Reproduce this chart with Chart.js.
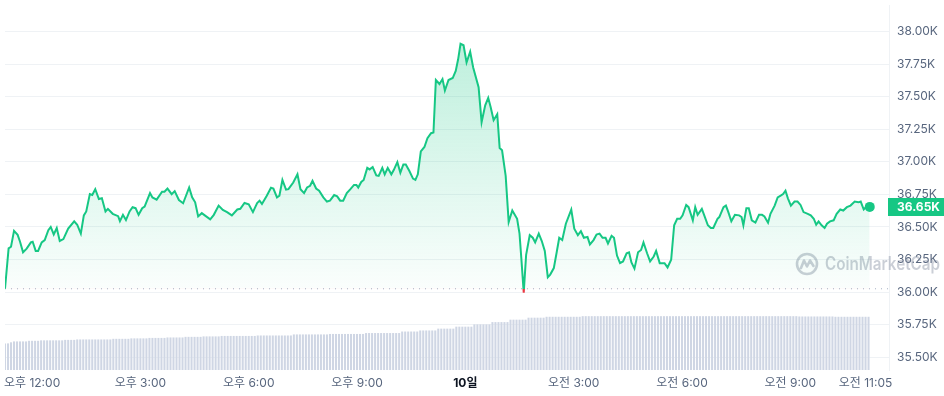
<!DOCTYPE html>
<html>
<head>
<meta charset="utf-8">
<script src="https://cdn.jsdelivr.net/npm/chart.js@4.4.1/dist/chart.umd.min.js"></script>
<style>
  html, body { margin: 0; padding: 0; background: #fff; }
  #chart { display: block; }
</style>
</head>
<body>
<canvas id="chart" width="944" height="396"></canvas>
<script>
// time = minutes after 00:00 on the 9th (1440 = 10일 00:00)
const times = [
  675,681,685,690,696,700,705,711,718,721,726,730,736,741,747,751,756,761,766,772,780,790,795,801,806,810,816,820,825,831,836,842,846,854,863,866,871,876,882,887,892,897,903,907,916,
  920,927,936,940,945,952,957,964,971,981,986,991,996,1002,1007,1016,1022,1030,1037,1044,1052,1061,1066,1073,1080,1087,1094,1098,1102,1110,1117,1121,1127,1131,1136,1142,1146,1154,
  1161,1166,1172,1177,1182,1186,1192,1197,1204,1210,1215,1222,1227,1232,1237,1243,1249,1255,1259,1262,1267,1271,1277,1281,1286,1292,1296,1302,1306,1311,1317,1321,1327,1332,1337,1341,1347,1353,1357,1361,1366,1372,1377,1383,1387,
  1391,1397,1402,1406,1412,1419,1424,1428,1432,1437,1442,1448,1453,1462,1467,1473,1478,1482,1487,1493,1497,1501,1507,1512,1518,1526,1530,1533,1537,1541,1547,1552,1556,1562,1567,1572,1577,1581,1587,1592,1596,1601,1607,1616,
  1621,1627,1632,1637,1643,1647,1653,1658,1663,1668,1673,1677,1683,1687,1692,1697,1702,1708,1712,1716,1721,1727,1732,1736,1742,1747,1753,1757,1763,1771,1776,1782,1787,1792,1797,1801,1807,1811,1818,1822,
  1826,1833,1837,1843,1848,1852,1859,1862,1869,1873,1877,1882,1888,1895,1899,1902,1907,1911,1916,1922,1928,1933,1937,1943,1947,1954,1959,1964,1968,1972,1976,1981,1987,1992,1997,2002,2009,2014,2019,2023,2027,2032,2037,2041,2046,2052,2057,2063,2068,2074,2080,2087,2093,2097,2102,2107,2112
];
const prices = [
  36025,36336,36348,36470,36439,36386,36305,36333,36381,36386,36316,36316,36381,36399,36475,36500,36442,36492,36392,36407,36487,36543,36517,36449,36589,36619,36752,36745,36790,36714,36720,36619,36639,36601,36583,36545,36593,36553,36619,36651,36644,36593,36644,36657,36760,
  36727,36710,36770,36770,36795,36752,36775,36707,36682,36803,36727,36689,36581,36606,36589,36558,36593,36664,36631,36614,36589,36634,36639,36684,36674,36614,36684,36702,36677,36740,36801,36795,36727,36740,36861,36786,36790,36841,
  36904,36790,36760,36803,36816,36854,36795,36778,36727,36695,36702,36745,36735,36702,36702,36760,36790,36823,36823,36803,36846,36861,36954,36942,36960,36896,36892,36954,36904,36954,36904,36937,36998,36917,36980,36980,36930,36871,36861,36904,37081,37114,37182,37220,37225,
  37629,37598,37636,37548,37629,37644,37699,37788,37907,37896,37763,37846,37725,37573,37305,37434,37492,37422,37320,37366,37106,37089,36892,36538,36626,36563,36449,36260,35995,36286,36437,36417,36381,36449,36392,36316,36114,36134,36184,36311,36417,36399,36525,36633,
  36487,36437,36467,36417,36424,36366,36399,36442,36449,36417,36417,36373,36432,36417,36280,36222,36235,36298,36305,36227,36180,36305,36323,36381,36298,36235,36273,36316,36222,36222,36189,36248,36513,36563,36563,36589,36669,36652,36551,36652,
  36593,36639,36589,36513,36492,36492,36563,36576,36652,36664,36614,36543,36593,36589,36576,36513,36644,36644,36551,36533,36593,36593,36581,36533,36601,36664,36727,36740,36752,36778,36720,36664,36695,36695,36669,36614,36601,36589,36563,36517,36543,36513,36492,36525,36543,36551,36601,36634,36626,36652,36664,36695,36689,36695,36634,36659,36654
];

// 24h volume (B USD), one bar every 5 min from volStart
const volStart = 675;
const volumes = [
  17.5,17.5,18.2,18.8,18.8,18.8,18.8,18.8,19.2,19.2,19.2,19.2,
  19.5,19.5,19.5,19.5,19.5,19.5,19.5,19.5,19.8,19.8,19.8,19.8,
  20.1,20.1,20.1,20.1,20.1,20.1,20.1,20.1,20.1,20.1,20.1,20.1,
  20.5,20.5,20.5,20.5,20.5,20.5,20.8,20.8,20.8,20.8,20.8,20.8,
  21.1,21.1,21.1,21.1,21.1,21.1,21.4,21.4,21.4,21.4,21.4,21.4,
  21.8,21.8,21.8,21.8,21.8,21.8,22.1,22.1,22.1,22.1,22.1,22.1,
  22.4,22.4,22.4,22.4,22.4,22.4,22.4,22.4,22.4,22.4,22.4,22.4,
  22.7,22.7,22.7,22.7,22.7,22.7,22.7,22.7,22.7,22.7,22.7,22.7,
  23.4,23.4,23.4,23.4,23.4,23.4,23.4,23.4,23.4,23.4,23.4,23.4,
  23.7,23.7,23.7,23.7,23.7,23.7,23.7,23.7,23.7,23.7,23.7,23.7,
  24.3,24.3,24.3,24.3,24.3,24.3,24.3,24.3,24.3,24.3,24.3,24.3,
  25.3,25.3,25.3,25.3,25.3,25.3,26.0,26.0,26.0,26.0,26.0,26.0,
  27.2,27.2,27.2,27.2,27.2,27.2,28.5,28.5,28.5,28.5,28.5,28.5,
  30.0,30.0,30.0,30.0,30.0,30.0,31.5,31.5,31.5,31.5,31.5,31.5,
  33.1,33.1,33.1,33.1,33.1,33.1,34.4,34.4,34.4,34.4,34.4,34.4,
  35.0,35.0,35.0,35.0,35.0,35.0,35.0,35.0,35.0,35.0,35.0,35.0,
  35.4,35.4,35.4,35.4,35.4,35.4,35.4,35.4,35.4,35.4,35.4,35.4,
  35.4,35.4,35.4,35.4,35.4,35.4,35.4,35.4,35.4,35.4,35.4,35.4,
  35.4,35.4,35.4,35.4,35.4,35.4,35.4,35.4,35.4,35.4,35.4,35.4,
  35.4,35.4,35.4,35.4,35.4,35.4,35.4,35.4,35.4,35.4,35.4,35.4,
  35.4,35.4,35.4,35.4,35.4,35.4,35.4,35.4,35.4,35.4,35.4,35.4,
  35.4,35.4,35.4,35.4,35.4,35.4,35.4,35.4,35.4,35.4,35.4,35.4,
  35.2,35.2,35.2,35.2,35.2,35.2,35.2,35.2,35.2,35.2,35.2,35.2,
  35.0,35.0,35.0,35.0,35.0,35.0,35.0,35.0,35.0,35.0,35.0,35.0
];

const yTicks = [35500, 35750, 36000, 36250, 36500, 36750, 37000, 37250, 37500, 37750, 38000];
const xTicks = [720, 900, 1080, 1260, 1440, 1620, 1800, 1980, 2105];
const xLabels = ['오후 12:00', '오후 3:00', '오후 6:00', '오후 9:00', '10일', '오전 3:00', '오전 6:00', '오전 9:00', '오전 11:05'];

const green = '#16c784';
const red = '#ea3943';
const font = 'Inter, "Noto Sans CJK KR", sans-serif';
const base = prices[0];
const last = prices[prices.length - 1];

function lineColor(ctx) {
  const { chart } = ctx;
  const a = chart.chartArea;
  if (!a) return green;
  const yb = chart.scales.y.getPixelForValue(base);
  const r = Math.min(Math.max((yb - a.top) / (a.bottom - a.top), 0), 1);
  const g = chart.ctx.createLinearGradient(0, a.top, 0, a.bottom);
  g.addColorStop(0, green);
  g.addColorStop(r, green);
  g.addColorStop(r, red);
  g.addColorStop(1, red);
  return g;
}

function fillColor(ctx) {
  const { chart } = ctx;
  const a = chart.chartArea;
  if (!a) return 'rgba(22,199,132,0.1)';
  const yb = chart.scales.y.getPixelForValue(base);
  const g = chart.ctx.createLinearGradient(0, a.top, 0, yb);
  g.addColorStop(0, 'rgba(22,199,132,0.32)');
  g.addColorStop(1, 'rgba(22,199,132,0.02)');
  return g;
}

const watermark = {
  id: 'watermark',
  beforeDatasetsDraw(chart) {
    const c = chart.ctx;
    const cx = chart.width - 137, cy = chart.height - 132;
    c.save();
    c.strokeStyle = 'rgba(128,138,157,0.42)';
    c.fillStyle = 'rgba(128,138,157,0.42)';
    c.lineWidth = 2.6;
    c.lineJoin = 'round';
    c.lineCap = 'round';
    c.beginPath();
    c.arc(cx, cy, 10, 0, Math.PI * 2);
    c.stroke();
    c.beginPath();
    c.moveTo(cx - 6, cy + 4);
    c.lineTo(cx - 3, cy - 3.5);
    c.lineTo(cx, cy + 2.5);
    c.lineTo(cx + 3, cy - 3.5);
    c.lineTo(cx + 6.5, cy + 2);
    c.stroke();
    c.font = '600 18px ' + font;
    c.textBaseline = 'middle';
    c.textAlign = 'left';
    c.fillText('CoinMarketCap', cx + 18, cy + 1, 115);
    c.restore();
  }
};

const priceTag = {
  id: 'priceTag',
  afterDraw(chart) {
    const c = chart.ctx;
    const a = chart.chartArea;
    const py = chart.scales.y.getPixelForValue(last);
    c.save();
    c.fillStyle = green;
    c.fillRect(a.right - 1, Math.round(py) - 9, chart.width - a.right + 1, 18);
    c.fillStyle = '#fff';
    c.font = 'bold 12px ' + font;
    c.textBaseline = 'middle';
    c.textAlign = 'left';
    c.fillText((last / 1000).toFixed(2) + 'K', a.right + 8, py + 0.5);
    c.restore();
  }
};

new Chart(document.getElementById('chart').getContext('2d'), {
  type: 'line',
  data: {
    datasets: [{
      type: 'line',
      data: times.map((t, i) => ({ x: t, y: prices[i] })),
      borderColor: lineColor,
      borderWidth: 2,
      backgroundColor: fillColor,
      fill: { target: { value: base }, below: 'rgba(234,57,67,0.12)' },
      tension: 0,
      pointRadius: ctx => ctx.dataIndex === prices.length - 1 ? 5 : 0,
      pointHoverRadius: 0,
      pointBackgroundColor: green,
      pointBorderColor: green,
      pointBorderWidth: 0,
      order: 1
    }, {
      type: 'line',
      data: [{ x: 675, y: base }, { x: 2144, y: base }],
      borderColor: '#a6b0c3',
      borderWidth: 1,
      borderDash: [1, 5],
      pointRadius: 0,
      fill: false,
      order: 2
    }, {
      type: 'bar',
      yAxisID: 'v',
      data: volumes.map((v, i) => ({ x: volStart + i * 5, y: v })),
      backgroundColor: '#cfd6e4',
      barPercentage: 1,
      categoryPercentage: 0.68,
      order: 3
    }]
  },
  options: {
    responsive: false,
    animation: false,
    devicePixelRatio: 1,
    layout: { padding: 0 },
    plugins: {
      legend: { display: false },
      tooltip: { enabled: false }
    },
    scales: {
      x: {
        type: 'linear',
        min: 675,
        max: 2144,
        offset: false,
        grid: { display: false, drawTicks: false },
        border: { display: false },
        afterBuildTicks: s => { s.ticks = xTicks.map(v => ({ value: v })); },
        afterFit: s => { s.height = 26; s.paddingLeft = 0; s.paddingRight = 0; },
        ticks: {
          autoSkip: false,
          maxRotation: 0,
          padding: 6,
          callback: (v, i) => xLabels[i],
          color: ctx => ctx.tick && ctx.tick.value === 1440 ? '#0d1421' : '#58667e',
          font: ctx => ({ size: 12, family: font, weight: ctx.tick && ctx.tick.value === 1440 ? 'bold' : 'normal' })
        }
      },
      y: {
        position: 'right',
        min: 35401,
        max: 38205,
        grid: { color: '#eff2f5', drawTicks: false },
        border: { display: true, color: '#eff2f5' },
        afterBuildTicks: s => { s.ticks = yTicks.map(v => ({ value: v })); },
        afterFit: s => { s.width = 55; s.paddingTop = 0; s.paddingBottom = 0; },
        ticks: {
          padding: 8,
          color: '#58667e',
          font: { size: 12, family: font },
          callback: v => (v / 1000).toFixed(2) + 'K'
        }
      },
      v: {
        display: false,
        min: 0,
        max: 240
      }
    }
  },
  plugins: [watermark, priceTag]
});
</script>
</body>
</html>
